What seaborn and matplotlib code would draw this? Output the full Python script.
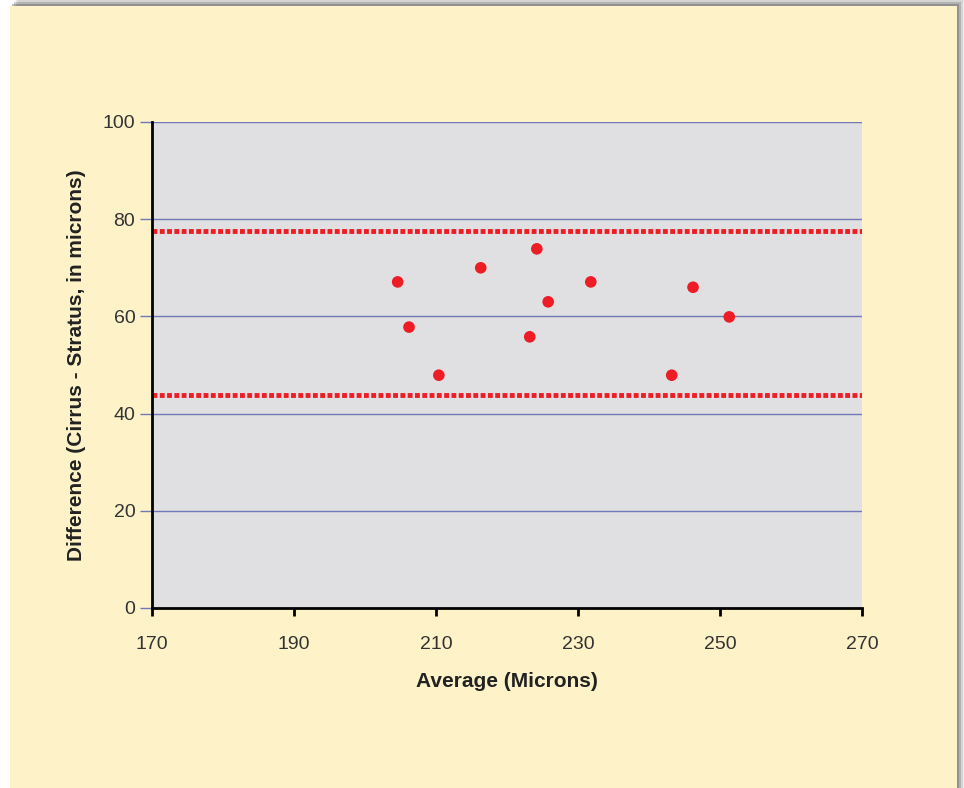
import numpy as np
import pandas as pd
import seaborn as sns
import matplotlib.pyplot as plt
from matplotlib.patches import Rectangle

# Bland-Altman style data
average = [204.6, 206.2, 210.4, 216.3, 223.2, 224.2, 225.8, 231.8, 243.2, 246.2, 251.3]
difference = [67.1, 57.8, 47.9, 70.0, 55.8, 73.9, 63.0, 67.1, 47.9, 66.0, 59.9]
upper_limit = 77.6
lower_limit = 43.8

x_ticks = [170, 190, 210, 230, 250, 270]
y_ticks = [0, 20, 40, 60, 80, 100]

df = pd.DataFrame({'Average': average, 'Difference': difference})

sns.set_style('white')
plt.rcParams['font.family'] = ['Liberation Sans', 'DejaVu Sans']

fig = plt.figure(figsize=(9.64, 7.88), dpi=100)
fig.patch.set_facecolor('white')

# cream panel with a soft shadow on the right
for i, a in enumerate([0.10, 0.18, 0.28, 0.40]):
    off = (4 - i) * 2
    fig.add_artist(Rectangle((10 / 964 + off / 964, 0), 947 / 964, 1 - (6 - off) / 788,
                             transform=fig.transFigure, facecolor='#606060', alpha=a,
                             edgecolor='none', zorder=0))
fig.add_artist(Rectangle((10 / 964, 0), 947 / 964, 1 - 6 / 788, transform=fig.transFigure,
                         facecolor='#fef3c8', edgecolor='none', zorder=0))

ax = fig.add_axes([152 / 964, 1 - 608 / 788, 710 / 964, 486 / 788])
ax.set_facecolor('#e0e0e2')

for t in y_ticks[1:]:
    ax.axhline(t, color='#7078b8', linewidth=1, zorder=1)

ax.axhline(upper_limit, color='#ee1c25', linestyle=(0, (1, 0.5)), linewidth=3.5, zorder=2)
ax.axhline(lower_limit, color='#ee1c25', linestyle=(0, (1, 0.5)), linewidth=3.5, zorder=2)

sns.scatterplot(data=df, x='Average', y='Difference', ax=ax, color='#ee1c25',
                s=70, edgecolor='none', zorder=3)

ax.set_xlim(170, 270)
ax.set_ylim(0, 100)
ax.set_xticks(x_ticks)
ax.set_yticks(y_ticks)

for s in ['top', 'right']:
    ax.spines[s].set_visible(False)
for s in ['left', 'bottom']:
    ax.spines[s].set_color('black')
    ax.spines[s].set_linewidth(2)

ax.tick_params(axis='y', length=9, width=1, color='#7078b8', labelsize=14,
               labelcolor='#333333', left=True, pad=3)
ax.tick_params(axis='x', length=6, width=2, color='black', labelsize=14,
               labelcolor='#333333', bottom=True, pad=14)

ax.set_xlabel('Average (Microns)', fontsize=15, fontweight='bold', color='#222222', labelpad=14)
ax.set_ylabel('Difference (Cirrus - Stratus, in microns)', fontsize=15, fontweight='bold',
              color='#222222', labelpad=12)

fig.savefig('out.png', dpi=100, facecolor=fig.get_facecolor())
